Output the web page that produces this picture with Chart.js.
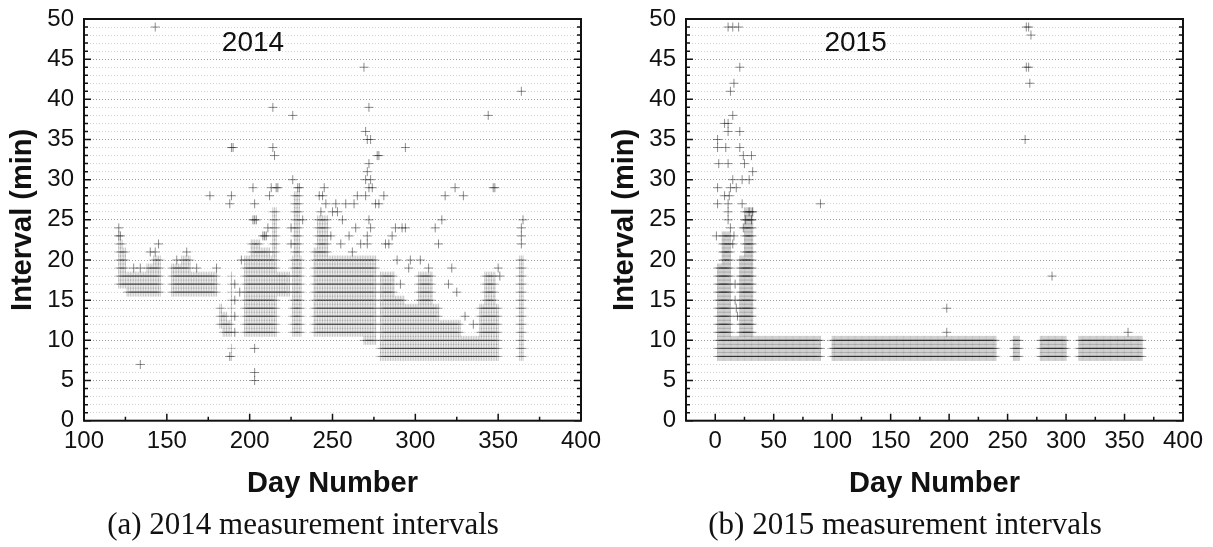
<!DOCTYPE html>
<html>
<head>
<meta charset="utf-8">
<script src="https://cdn.jsdelivr.net/npm/chart.js@4.4.1/dist/chart.umd.min.js"></script>
<style>
  html, body { margin: 0; padding: 0; background: #fff; }
  #page { position: relative; width: 1213px; height: 547px; overflow: hidden; background: #fff; }
  .panel { position: absolute; top: 0; width: 602px; height: 547px; }
  .caption { position: absolute; top: 506px; width: 602px; font: 31px "Liberation Serif", serif; color: #111; text-align: center; white-space: nowrap; }
</style>
</head>
<body>
<div id="page">
  <div class="panel" style="left:0"><canvas id="c2014" width="602" height="547"></canvas></div>
  <div class="panel" style="left:602px"><canvas id="c2015" width="602" height="547"></canvas></div>
  <div class="caption" style="left:2px">(a) 2014 measurement intervals</div>
  <div class="caption" style="left:604px">(b) 2015 measurement intervals</div>
</div>
<script>
// measured intervals (minutes) read off the two scatter plots
// a run [fromDay, toDay, intervals] = every day in that span logged those intervals
const runs2014 = [
  [121, 123, [17, 18, 19, 20, 21, 22]],
  [124, 125, [17, 18, 19, 20, 21]],
  [126, 137, [16, 17, 18]],
  [138, 141, [16, 17, 18, 19]],
  [142, 146, [16, 17, 18, 19, 20]],
  [153, 158, [16, 17, 18, 19]],
  [159, 164, [16, 17, 18, 19, 20]],
  [165, 180, [16, 17, 18]],
  [182, 183, [12, 13, 14]],
  [184, 186, [11, 12, 13]],
  [187, 188, [11, 12]],
  [189, 189, [8, 9, 11, 12, 13, 14, 15, 16, 17, 18]],
  [197, 200, [11, 12, 13, 14, 15, 16, 17, 18, 19, 20]],
  [201, 206, [11, 12, 13, 14, 15, 16, 17, 18, 19, 20, 21, 22]],
  [207, 212, [11, 12, 13, 14, 15, 16, 17, 18, 19, 20, 21]],
  [213, 216, [11, 12, 13, 14, 15, 16, 17, 18, 19, 20]],
  [214, 216, [21, 22, 23, 24, 25, 26]],
  [217, 224, [16, 17, 18]],
  [226, 231, [11, 12, 13, 14, 15, 16, 17, 18, 19, 20]],
  [227, 230, [21, 22, 23, 24, 25, 26, 27, 28]],
  [239, 247, [11, 12, 13, 14, 15, 16, 17, 18, 19, 20, 21]],
  [241, 247, [22, 23, 24, 25]],
  [248, 268, [11, 12, 13, 14, 15, 16, 17, 18, 19, 20]],
  [269, 276, [10, 11, 12, 13, 14, 15, 16, 17, 18, 19, 20]],
  [279, 287, [8, 9, 10, 11, 12, 13, 14, 15, 16, 17, 18]],
  [288, 293, [8, 9, 10, 11, 12, 13, 14, 15]],
  [294, 314, [8, 9, 10, 11, 12, 13, 14]],
  [302, 310, [15, 16, 17, 18]],
  [315, 327, [8, 9, 10, 11, 12]],
  [328, 338, [8, 9, 10]],
  [339, 350, [8, 9, 10, 11, 12, 13, 14]],
  [342, 348, [15, 16, 17, 18]],
  [363, 365, [8, 9, 10, 11, 12, 13, 14, 15, 16, 17, 18, 19, 20]]
];
// single measurements [day, interval]
const extra2014 = [
  [121, 23], [121, 24], [122, 23], [130, 19], [134, 19], [140, 21], [143, 21], [145, 22], [134, 7], [143, 49],
  [156, 20], [162, 21], [168, 19], [180, 19], [176, 28],
  [188, 8], [188, 27], [189, 28], [189, 34], [190, 34], [191, 11], [191, 13], [191, 15], [191, 17], [194, 16], [195, 20],
  [202, 25], [203, 25], [204, 25], [203, 27], [202, 29], [203, 9], [203, 6], [203, 5], [208, 23], [209, 23], [210, 23],
  [211, 24], [214, 39], [214, 34], [215, 33], [213, 29], [216, 29], [217, 29], [212, 28],
  [225, 22], [225, 24], [226, 30], [226, 38], [229, 29], [230, 29], [232, 25],
  [242, 28], [244, 28], [245, 29], [243, 26], [246, 27], [250, 26], [252, 27], [253, 26], [256, 25], [258, 27],
  [260, 23], [262, 21], [263, 27], [264, 24], [265, 28], [267, 22], [255, 22], [249, 23],
  [269, 44], [272, 39], [270, 36], [271, 35], [273, 35], [272, 32], [271, 31], [270, 30], [273, 30], [272, 29],
  [270, 28], [274, 29], [276, 27], [272, 25], [271, 23], [273, 24], [277, 33], [278, 33], [271, 22],
  [278, 27], [281, 28], [282, 22], [284, 22], [286, 23], [288, 24], [292, 24], [294, 24], [294, 34], [289, 20],
  [291, 17], [296, 19], [297, 20], [303, 20], [308, 19], [312, 24], [314, 22], [316, 25], [318, 28], [320, 17],
  [322, 19], [324, 29], [325, 16], [329, 28], [330, 13], [335, 12],
  [344, 38], [347, 29], [348, 29], [350, 19], [351, 18],
  [364, 22], [364, 23], [364, 24], [365, 25], [364, 41]
];

const runs2015 = [
  [2, 5, [8, 9, 10, 11, 12, 13, 14, 15, 16, 17, 18, 19]],
  [6, 13, [8, 9, 10, 11, 12, 13, 14, 15, 16, 17, 18, 19, 20, 21, 22, 23]],
  [14, 20, [8, 9, 10]],
  [21, 24, [8, 9, 10, 11, 12, 13, 14, 15, 16, 17, 18, 19, 20]],
  [25, 32, [8, 9, 10, 11, 12, 13, 14, 15, 16, 17, 18, 19, 20, 21, 22, 23, 24, 25, 26]],
  [33, 90, [8, 9, 10]],
  [100, 240, [8, 9, 10]],
  [255, 260, [8, 9, 10]],
  [278, 300, [8, 9, 10]],
  [311, 365, [8, 9, 10]]
];
const extra2015 = [
  [11, 49], [15, 49], [20, 49], [21, 44], [16, 42], [13, 41], [15, 38], [8, 37], [11, 37], [11, 36], [21, 36],
  [2, 35], [2, 34], [9, 34], [21, 34], [24, 33], [31, 33], [3, 32], [11, 32], [25, 32], [32, 31],
  [15, 30], [23, 30], [29, 30], [2, 29], [13, 29], [18, 29], [8, 28], [12, 28], [2, 27], [11, 27], [23, 27],
  [11, 26], [29, 26], [32, 26], [11, 25], [26, 25], [31, 25], [13, 24], [24, 24], [15, 22], [16, 23], [1, 23],
  [17, 17], [18, 14], [19, 13], [17, 15],
  [90, 27], [198, 14], [198, 11], [353, 11], [288, 18],
  [266, 49], [268, 49], [270, 48], [266, 44], [268, 44], [269, 42], [265, 35]
];

const xTicks2014 = [100, 150, 200, 250, 300, 350, 400];
const xTicks2015 = [0, 50, 100, 150, 200, 250, 300, 350, 400];

function runPoints(runs) {
  const pts = [];
  runs.forEach(([from, to, vals]) => {
    for (let d = from; d <= to; d++) vals.forEach(v => pts.push({x: d, y: v}));
  });
  return pts;
}
function extraPoints(extra) {
  return extra.map(([d, v]) => ({x: d, y: v}));
}

Chart.defaults.font.family = '"Liberation Sans", Arial, sans-serif';
Chart.defaults.color = '#111';

// box round the plot, inward ticks, year label
const frameTicks = {
  id: 'frameTicks',
  afterDatasetsDraw(chart, args, opts) {
    const {ctx, chartArea: a, scales: {x, y}} = chart;
    ctx.save();
    ctx.strokeStyle = '#111';
    ctx.lineWidth = 1.5;
    ctx.beginPath();
    y.ticks.forEach(t => {
      const py = y.getPixelForValue(t.value);
      const len = t.value % 5 === 0 ? 7 : 4;
      ctx.moveTo(a.left, py); ctx.lineTo(a.left + len, py);
      ctx.moveTo(a.right, py); ctx.lineTo(a.right - len, py);
    });
    const major = x.ticks.map(t => t.value);
    major.forEach((v, i) => {
      const px = x.getPixelForValue(v);
      ctx.moveTo(px, a.bottom); ctx.lineTo(px, a.bottom - 7);
      if (i > 0) {
        const pm = x.getPixelForValue((v + major[i - 1]) / 2);
        ctx.moveTo(pm, a.bottom); ctx.lineTo(pm, a.bottom - 4);
      }
    });
    ctx.stroke();
    ctx.lineWidth = 2;
    ctx.strokeRect(a.left, a.top, a.right - a.left, a.bottom - a.top);

    ctx.fillStyle = '#111';
    ctx.font = '28px "Liberation Sans", Arial, sans-serif';
    ctx.textAlign = 'center';
    ctx.textBaseline = 'middle';
    ctx.fillText(opts.text, x.getPixelForValue(opts.x), y.getPixelForValue(opts.y));
    ctx.restore();
  }
};

const crossStyle = {
  pointStyle: 'cross',
  pointRadius: 4.5,
  pointHoverRadius: 4.5,
  borderWidth: 1,
  backgroundColor: 'rgba(0,0,0,0)'
};

function makeChart(id, runs, extra, xMin, xTicks, year) {
  return new Chart(document.getElementById(id), {
    type: 'scatter',
    data: {
      datasets: [
        Object.assign({data: runPoints(runs), borderColor: 'rgba(30,30,30,0.26)'}, crossStyle),
        Object.assign({data: extraPoints(extra), borderColor: 'rgba(30,30,30,0.5)'}, crossStyle)
      ]
    },
    options: {
      responsive: false,
      animation: false,
      events: [],
      layout: { padding: { top: 19, right: 21, left: 0, bottom: 0 } },
      plugins: {
        legend: { display: false },
        tooltip: { enabled: false },
        frameTicks: year
      },
      scales: {
        x: {
          type: 'linear',
          min: xMin,
          max: 400,
          afterBuildTicks: s => { s.ticks = xTicks.map(v => ({value: v})); },
          afterFit: s => { s.height = 126.3; s.paddingLeft = 0; s.paddingRight = 0; },
          grid: { display: false, drawTicks: false },
          border: { display: false },
          ticks: { font: { size: 24 }, color: '#111', padding: 6, autoSkip: false, maxRotation: 0 },
          title: {
            display: true, text: 'Day Number', color: '#111',
            font: { size: 29, weight: 'bold' }, padding: { top: 0, bottom: 46 }
          }
        },
        y: {
          min: 0,
          max: 50,
          afterFit: s => { s.width = 84; s.paddingTop = 0; s.paddingBottom = 0; },
          grid: {
            drawTicks: false,
            lineWidth: 1,
            color: c => c.tick.value % 5 === 0 ? '#9c9c9c' : '#d6d6d6'
          },
          border: { display: false, dash: [1, 2] },
          ticks: {
            stepSize: 1, autoSkip: false, padding: 10, font: { size: 24 }, color: '#111',
            callback: v => v % 5 === 0 ? v : ''
          },
          title: {
            display: true, text: 'Interval (min)', color: '#111',
            font: { size: 29, weight: 'bold' }, padding: { top: 6, bottom: 0 }
          }
        }
      }
    },
    plugins: [frameTicks]
  });
}

makeChart('c2014', runs2014, extra2014, 100, xTicks2014, {text: '2014', x: 202, y: 47});
makeChart('c2015', runs2015, extra2015, -25, xTicks2015, {text: '2015', x: 120, y: 47});
</script>
</body>
</html>
